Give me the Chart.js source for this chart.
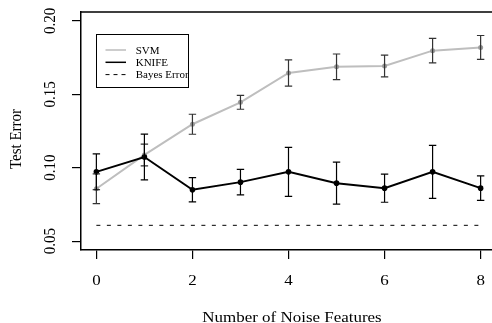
<!DOCTYPE html>
<html>
<head>
<meta charset="utf-8">
<script src="https://cdn.jsdelivr.net/npm/chart.js@4.4.0/dist/chart.umd.min.js"></script>
<style>
  html, body { margin: 0; padding: 0; background: #fff; overflow: hidden; }
  #wrap { width: 500px; height: 323px; }
</style>
</head>
<body>
<div id="wrap"><canvas id="chart" width="500" height="323"></canvas></div>
<script>
// data
const noiseFeatures = [0, 1, 2, 3, 4, 5, 6, 7, 8];
const svmError  = [0.0857, 0.1087, 0.1296, 0.1445, 0.1645, 0.1687, 0.1693, 0.1797, 0.1819];
const svmSE     = [0.0101, 0.0074, 0.0068, 0.0047, 0.0089, 0.0087, 0.0074, 0.0083, 0.0081];
const knifeError = [0.0972, 0.1073, 0.0850, 0.0902, 0.0972, 0.0895, 0.0861, 0.0972, 0.0861];
const knifeSE    = [0.0122, 0.0156, 0.0083, 0.0087, 0.0167, 0.0143, 0.0096, 0.0180, 0.0083];
const bayesError = 0.0608;
const xTicks = [0, 2, 4, 6, 8];
const yTicks = [0.05, 0.10, 0.15, 0.20];
const yTickLabels = ['0.05', '0.10', '0.15', '0.20'];

const FONT = '"Liberation Serif", "DejaVu Serif", serif';
const STRETCH = 1.13; // the original picture is a bit wider than tall

// text helper: anchor point, rotation, horizontal stretch
function drawText(ctx, text, x, y, rot) {
    ctx.save();
    ctx.translate(x, y);
    ctx.scale(STRETCH, 1);
    if (rot) ctx.rotate(rot);
    ctx.fillText(text, 0, 0);
    ctx.restore();
}

// error bars on top of the lines
const errorBars = {
    id: 'errorBars',
    afterDatasetsDraw(chart) {
        const ctx = chart.ctx;
        const xs = chart.scales.x, ys = chart.scales.y;
        const groups = [
            { mean: svmError, se: svmSE, color: '#333' },
            { mean: knifeError, se: knifeSE, color: '#000' }
        ];
        ctx.save();
        ctx.lineWidth = 1.2;
        groups.forEach(g => {
            ctx.strokeStyle = g.color;
            noiseFeatures.forEach((n, i) => {
                const px = xs.getPixelForValue(n);
                const top = ys.getPixelForValue(g.mean[i] + g.se[i]);
                const bot = ys.getPixelForValue(g.mean[i] - g.se[i]);
                ctx.beginPath();
                ctx.moveTo(px, top); ctx.lineTo(px, bot);
                ctx.moveTo(px - 3.7, top); ctx.lineTo(px + 3.7, top);
                ctx.moveTo(px - 3.7, bot); ctx.lineTo(px + 3.7, bot);
                ctx.stroke();
            });
        });
        ctx.restore();
    }
};

// box, tick labels, titles, legend
const decorations = {
    id: 'decorations',
    afterDraw(chart) {
        const ctx = chart.ctx;
        const a = chart.chartArea;
        const xs = chart.scales.x, ys = chart.scales.y;
        ctx.save();
        ctx.strokeStyle = '#000';
        ctx.lineWidth = 1.5;
        ctx.beginPath();
        ctx.moveTo(a.left, a.top); ctx.lineTo(a.right, a.top); ctx.lineTo(a.right, a.bottom);
        ctx.stroke();

        ctx.fillStyle = '#000';
        ctx.font = '15px ' + FONT;
        ctx.textAlign = 'center';
        ctx.textBaseline = 'alphabetic';
        xTicks.forEach(v => drawText(ctx, String(v), xs.getPixelForValue(v), 285));
        drawText(ctx, 'Number of Noise Features', 292, 321.5);

        yTicks.forEach((v, i) => drawText(ctx, yTickLabels[i], 55, ys.getPixelForValue(v), -Math.PI / 2));
        drawText(ctx, 'Test Error', 21, (a.top + a.bottom) / 2 + 8, -Math.PI / 2);

        // legend
        ctx.lineWidth = 1;
        ctx.strokeRect(96.5, 34.5, 92, 53);
        const items = [
            { label: 'SVM', color: '#bdbdbd', width: 1.5, dash: [] },
            { label: 'KNIFE', color: '#000', width: 1.5, dash: [] },
            { label: 'Bayes Error', color: '#000', width: 1, dash: [4, 4] }
        ];
        ctx.font = '11px ' + FONT;
        ctx.textAlign = 'left';
        items.forEach((it, i) => {
            const y = 50 + i * 12.3;
            ctx.strokeStyle = it.color;
            ctx.lineWidth = it.width;
            ctx.setLineDash(it.dash);
            ctx.beginPath();
            ctx.moveTo(105.5, y); ctx.lineTo(126, y);
            ctx.stroke();
            ctx.setLineDash([]);
            ctx.fillText(it.label, 135.7, y + 3.8);
        });
        ctx.restore();
    }
};

new Chart(document.getElementById('chart'), {
    type: 'line',
    data: {
        datasets: [
            {
                label: 'KNIFE',
                data: noiseFeatures.map((n, i) => ({ x: n, y: knifeError[i] })),
                borderColor: '#000',
                borderWidth: 2,
                pointRadius: 2.8,
                pointBackgroundColor: '#000',
                pointBorderWidth: 0,
                order: 0
            },
            {
                label: 'SVM',
                data: noiseFeatures.map((n, i) => ({ x: n, y: svmError[i] })),
                borderColor: '#bebebe',
                borderWidth: 2,
                pointRadius: 2.5,
                pointBackgroundColor: '#9a9a9a',
                pointBorderWidth: 0,
                order: 1
            },
            {
                label: 'Bayes Error',
                data: [{ x: noiseFeatures[0], y: bayesError }, { x: noiseFeatures[noiseFeatures.length - 1], y: bayesError }],
                borderColor: '#000',
                borderWidth: 1,
                borderDash: [4, 6.5],
                pointRadius: 0,
                order: 2
            }
        ]
    },
    options: {
        responsive: false,
        animation: false,
        devicePixelRatio: 1,
        layout: { padding: { top: 12, right: 4, left: 0, bottom: 0 } },
        plugins: { legend: { display: false }, tooltip: { enabled: false } },
        scales: {
            x: {
                type: 'linear',
                min: -0.32,
                max: 8.32,
                afterBuildTicks: s => { s.ticks = xTicks.map(v => ({ value: v })); },
                afterFit: s => { s.height = 73; },
                ticks: { display: false },
                grid: { drawOnChartArea: false, drawTicks: true, tickLength: 9, color: '#000', lineWidth: 1.2 },
                border: { display: true, color: '#000', width: 1.5 }
            },
            y: {
                type: 'linear',
                min: 0.044,
                max: 0.206,
                afterBuildTicks: s => { s.ticks = yTicks.map(v => ({ value: v })); },
                afterFit: s => { s.width = 81; },
                ticks: { display: false },
                grid: { drawOnChartArea: false, drawTicks: true, tickLength: 9, color: '#000', lineWidth: 1.2 },
                border: { display: true, color: '#000', width: 1.5 }
            }
        }
    },
    plugins: [errorBars, decorations]
});
</script>
</body>
</html>
